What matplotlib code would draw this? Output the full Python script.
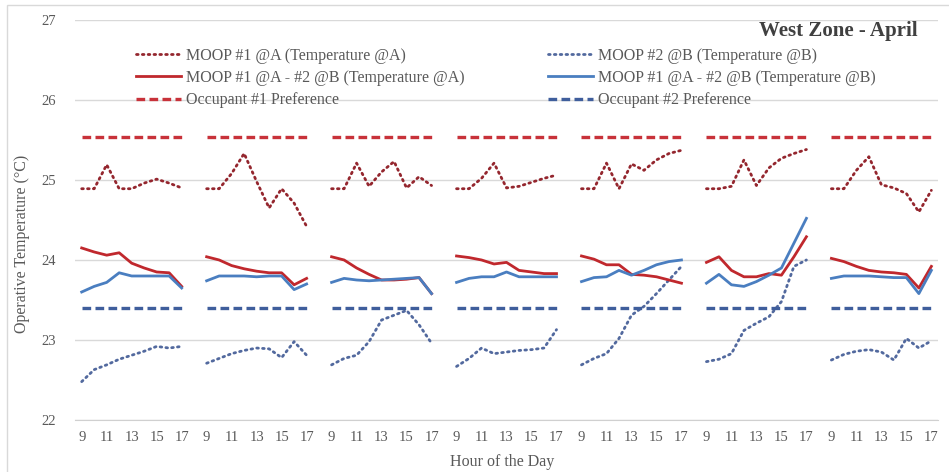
import numpy as np
import matplotlib.pyplot as plt
from matplotlib.patches import Rectangle

# hours shown on each day block
hours = [9, 10, 11, 12, 13, 14, 15, 16, 17]
tick_hours = ['9', '11', '13', '15', '17']

# MOOP #1 @A (Temperature @A), one list per day
moop1_a = [
    [24.89, 24.89, 25.19, 24.89, 24.89, 24.96, 25.01, 24.96, 24.90],
    [24.89, 24.89, 25.08, 25.33, 24.98, 24.65, 24.89, 24.71, 24.42],
    [24.89, 24.89, 25.21, 24.92, 25.10, 25.23, 24.90, 25.04, 24.93],
    [24.89, 24.89, 25.02, 25.21, 24.90, 24.92, 24.97, 25.02, 25.06],
    [24.89, 24.89, 25.21, 24.89, 25.20, 25.12, 25.25, 25.33, 25.37],
    [24.89, 24.89, 24.92, 25.25, 24.93, 25.15, 25.27, 25.33, 25.38],
    [24.89, 24.89, 25.12, 25.29, 24.94, 24.90, 24.83, 24.60, 24.87],
]
# MOOP #2 @B (Temperature @B)
moop2_b = [
    [22.48, 22.63, 22.69, 22.76, 22.81, 22.86, 22.92, 22.90, 22.92],
    [22.71, 22.77, 22.83, 22.87, 22.90, 22.89, 22.78, 22.98, 22.81],
    [22.69, 22.77, 22.81, 22.98, 23.25, 23.31, 23.37, 23.19, 22.96],
    [22.67, 22.77, 22.90, 22.83, 22.85, 22.87, 22.88, 22.90, 23.13],
    [22.69, 22.77, 22.83, 23.02, 23.31, 23.42, 23.58, 23.75, 23.92],
    [22.73, 22.76, 22.83, 23.12, 23.21, 23.29, 23.48, 23.92, 24.00],
    [22.75, 22.82, 22.86, 22.88, 22.85, 22.75, 23.02, 22.90, 22.99],
]
# MOOP #1 @A - #2 @B (Temperature @A)
both_a = [
    [24.15, 24.10, 24.06, 24.09, 23.96, 23.90, 23.85, 23.84, 23.67],
    [24.04, 24.00, 23.93, 23.89, 23.86, 23.84, 23.84, 23.69, 23.77],
    [24.04, 24.00, 23.90, 23.82, 23.75, 23.75, 23.76, 23.78, 23.58],
    [24.05, 24.03, 24.00, 23.95, 23.97, 23.87, 23.85, 23.83, 23.83],
    [24.05, 24.01, 23.94, 23.94, 23.82, 23.81, 23.79, 23.75, 23.71],
    [23.97, 24.04, 23.87, 23.79, 23.79, 23.83, 23.81, 24.04, 24.29],
    [24.02, 23.98, 23.92, 23.87, 23.85, 23.84, 23.82, 23.65, 23.92],
]
# MOOP #1 @A - #2 @B (Temperature @B)
both_b = [
    [23.60, 23.67, 23.72, 23.84, 23.80, 23.80, 23.80, 23.80, 23.65],
    [23.74, 23.80, 23.80, 23.80, 23.79, 23.80, 23.80, 23.63, 23.70],
    [23.72, 23.77, 23.75, 23.74, 23.75, 23.76, 23.77, 23.78, 23.58],
    [23.72, 23.77, 23.79, 23.79, 23.85, 23.79, 23.79, 23.79, 23.79],
    [23.73, 23.78, 23.79, 23.87, 23.81, 23.87, 23.94, 23.98, 24.00],
    [23.71, 23.82, 23.69, 23.67, 23.73, 23.81, 23.90, 24.21, 24.52],
    [23.77, 23.80, 23.80, 23.80, 23.79, 23.78, 23.78, 23.58, 23.87],
]
occ1_pref = 25.53
occ2_pref = 23.40


def series(days):
    xs, ys = [], []
    for d, vals in enumerate(days):
        xs += [d * 10 + i for i in range(len(vals))] + [d * 10 + 9]
        ys += list(vals) + [np.nan]
    return xs[:-1], ys[:-1]


def flat(value):
    return series([[value] * len(hours) for _ in range(len(moop1_a))])


plt.rcParams['font.family'] = 'Liberation Serif'
txt = '#595959'

fig = plt.figure(figsize=(9.49, 4.72), dpi=100)
ax = fig.add_axes([0.0795, 0.110, 0.9085, 0.848])

red_dot = '#94262E'
blue_dot = '#52699E'
red = '#C0282D'
blue = '#4A7EC0'

x, y = series(moop1_a)
ax.plot(x, y, color=red_dot, lw=2.0, linestyle=(0, (0.6, 1.5)),
        dash_capstyle='round', label='MOOP #1 @A (Temperature @A)')
x, y = series(moop2_b)
ax.plot(x, y, color=blue_dot, lw=2.0, linestyle=(0, (0.6, 1.5)),
        dash_capstyle='round', label='MOOP #2 @B (Temperature @B)')
x, y = series(both_a)
ax.plot(x, y, color=red, lw=2.0, label='MOOP #1 @A - #2 @B (Temperature @A)')
x, y = series(both_b)
ax.plot(x, y, color=blue, lw=2.0, label='MOOP #1 @A - #2 @B (Temperature @B)')
x, y = flat(occ1_pref)
ax.plot(x, y, color='#C8323A', lw=2.4, linestyle=(0, (2.6, 1.3)),
        label='Occupant #1 Preference')
x, y = flat(occ2_pref)
ax.plot(x, y, color='#3F5E9C', lw=2.4, linestyle=(0, (2.6, 1.3)),
        label='Occupant #2 Preference')

ax.set_xlim(-0.5, 68.5)
ax.set_ylim(22, 27)
ax.set_yticks([22, 23, 24, 25, 26, 27])
ticks = [d * 10 + i for d in range(len(moop1_a)) for i in (0, 2, 4, 6, 8)]
ax.set_xticks(ticks)
ax.set_xticklabels(tick_hours * len(moop1_a))
ax.tick_params(axis='both', length=0, labelsize=10.5, labelcolor=txt)
ax.tick_params(axis='y', pad=14)
ax.tick_params(axis='x', pad=8)
ax.grid(axis='y', color='#D9D9D9', lw=1)
ax.set_axisbelow(True)
for s in ['top', 'right', 'left']:
    ax.spines[s].set_visible(False)
ax.spines['bottom'].set_color('#D0D0D0')

h, l = ax.get_legend_handles_labels()
leg_kw = dict(loc='upper left', bbox_transform=fig.transFigure, frameon=False,
              fontsize=11.5, labelcolor=txt, handlelength=2.8, handletextpad=0.35,
              labelspacing=0.38, borderaxespad=0, borderpad=0)
leg1 = ax.legend([h[0], h[2], h[4]], [l[0], l[2], l[4]],
                 bbox_to_anchor=(136 / 949, 1 - 48 / 472), **leg_kw)
ax.add_artist(leg1)
ax.legend([h[1], h[3], h[5]], [l[1], l[3], l[5]],
          bbox_to_anchor=(548 / 949, 1 - 48 / 472), **leg_kw)

fig.text(918 / 949, 1 - 31 / 472, 'West Zone - April', ha='right', va='center',
         fontsize=15, fontweight='bold', color='#404040')
fig.text(22 / 949, 1 - 244 / 472, 'Operative Temperature (\u00b0C)', rotation=90,
         ha='center', va='center', fontsize=11.5, color=txt)
fig.text(502 / 949, 1 - 462 / 472, 'Hour of the Day', ha='center', va='center',
         fontsize=11.5, color=txt)

fig.patches.append(Rectangle((7 / 949, -0.01), 1.0, 1 - 5 / 472 + 0.01,
                             transform=fig.transFigure, fill=False,
                             edgecolor='#D9D9D9', lw=1))

fig.savefig('out.png', dpi=100)
